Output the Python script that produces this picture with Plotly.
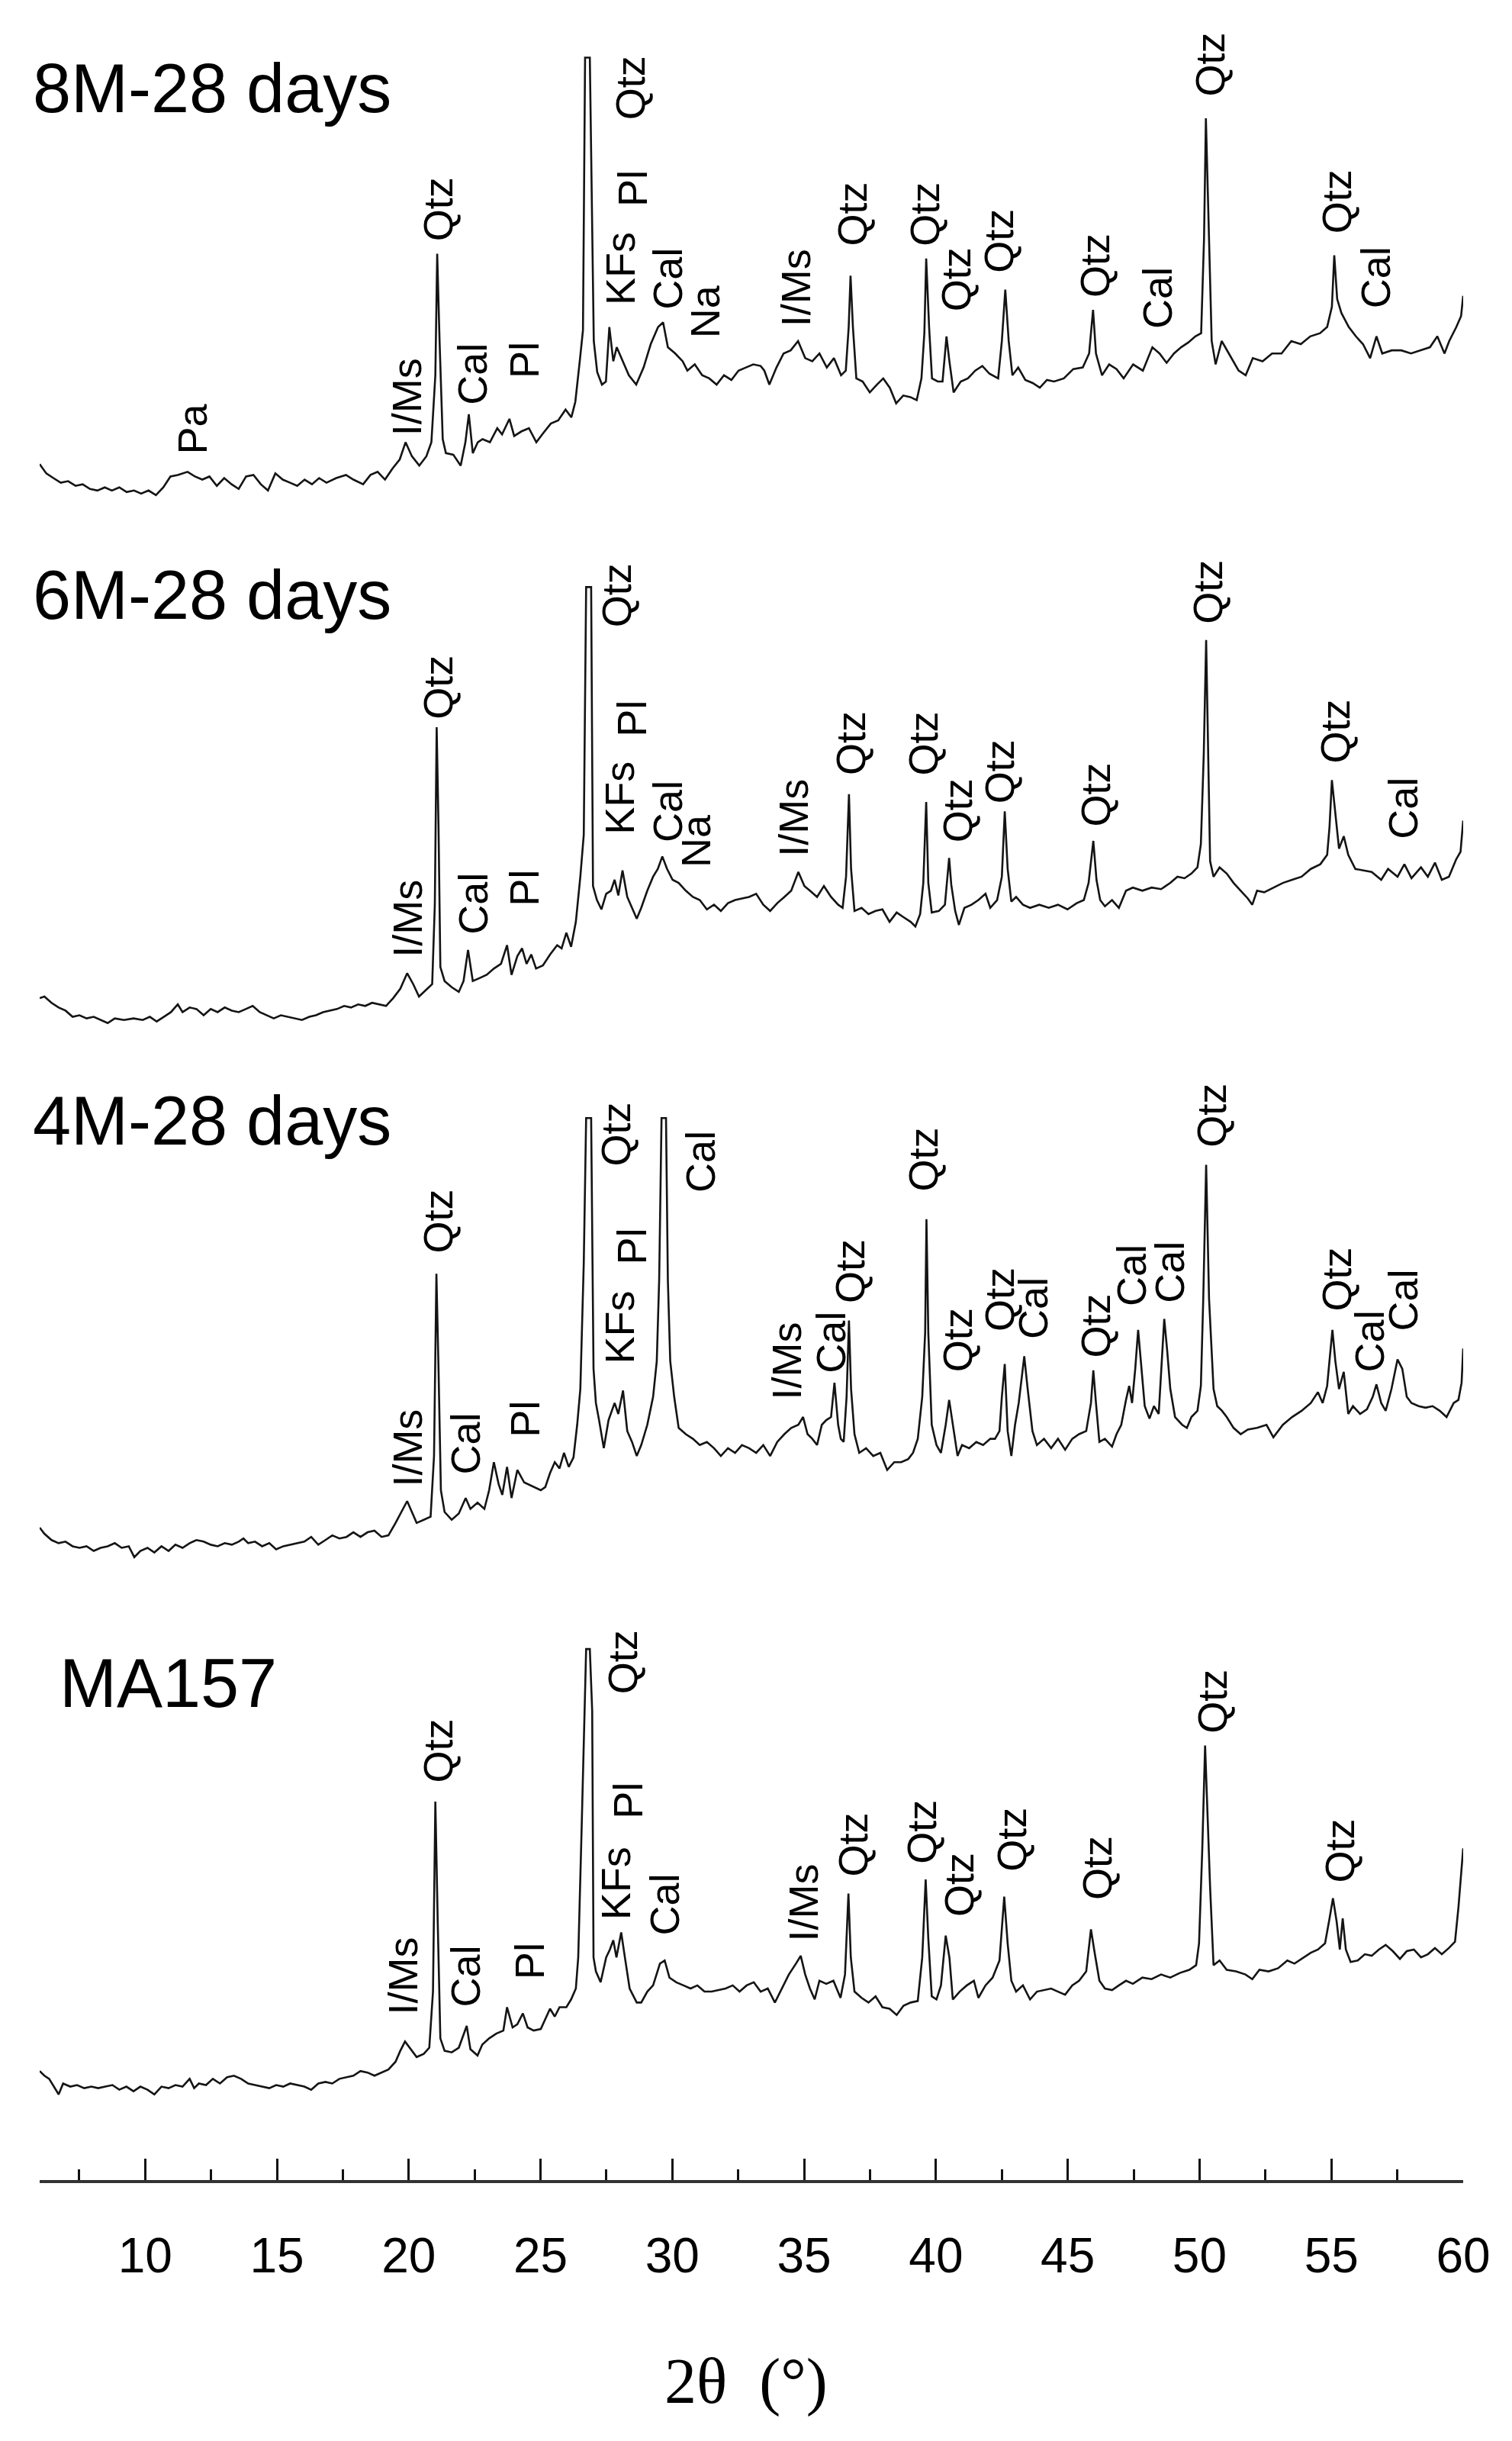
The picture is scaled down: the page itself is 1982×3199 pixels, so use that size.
import plotly.graph_objects as go

# ---------------- data: (2theta in degrees, intensity in arbitrary units above each pattern's baseline)
XRD_8M = [
    (6.00, 17), (6.25, 11), (6.52, 8), (6.80, 5), (7.08, 6), (7.36, 3), (7.63, 4), (7.91, 1), (8.19, 0),
    (8.47, 2), (8.74, 0), (9.02, 2), (9.30, -1), (9.58, 0), (9.85, -2), (10.13, 0), (10.41, -3), (10.69, 2),
    (10.96, 9), (11.24, 10), (11.61, 12), (11.89, 9), (12.17, 7), (12.44, 9), (12.72, 3), (13.00, 8),
    (13.28, 4), (13.55, 1), (13.83, 9), (14.11, 10), (14.39, 4), (14.66, 0), (14.94, 11), (15.22, 7),
    (15.50, 5), (15.77, 3), (16.05, 7), (16.33, 4), (16.60, 8), (16.88, 5), (17.25, 8), (17.62, 10),
    (17.90, 7), (18.27, 4), (18.55, 10), (18.82, 12), (19.10, 7), (19.38, 14), (19.66, 20), (19.88, 31),
    (20.12, 22), (20.40, 16), (20.67, 22), (20.86, 31), (21.01, 74), (21.08, 152), (21.17, 96), (21.29, 33),
    (21.41, 24), (21.69, 23), (21.97, 16), (22.15, 31), (22.28, 49), (22.43, 24), (22.62, 31), (22.80, 33),
    (23.08, 31), (23.36, 40), (23.54, 36), (23.82, 46), (24.00, 35), (24.28, 38), (24.56, 40), (24.84, 31),
    (25.11, 37), (25.39, 43), (25.67, 45), (25.95, 52), (26.17, 47), (26.32, 57), (26.50, 85), (26.61, 103),
    (26.69, 278), (26.87, 278), (27.02, 96), (27.15, 76), (27.33, 68), (27.48, 70), (27.61, 105), (27.76, 83),
    (27.89, 92), (28.07, 85), (28.35, 74), (28.63, 68), (28.91, 79), (29.18, 94), (29.46, 105), (29.65, 108),
    (29.83, 92), (30.11, 88), (30.39, 83), (30.57, 77), (30.85, 81), (31.13, 74), (31.40, 72), (31.68, 68),
    (31.96, 74), (32.24, 71), (32.51, 77), (32.79, 79), (33.07, 81), (33.35, 80), (33.49, 77), (33.68, 68),
    (33.95, 79), (34.22, 88), (34.49, 90), (34.77, 96), (35.04, 85), (35.31, 83), (35.58, 88), (35.86, 79),
    (36.13, 85), (36.40, 74), (36.58, 77), (36.69, 105), (36.76, 138), (36.85, 105), (36.98, 72), (37.22, 70),
    (37.49, 63), (37.76, 68), (38.00, 72), (38.25, 66), (38.49, 56), (38.76, 61), (39.03, 60), (39.27, 58),
    (39.45, 72), (39.56, 101), (39.63, 149), (39.74, 105), (39.85, 72), (40.07, 70), (40.25, 70), (40.40, 99),
    (40.51, 83), (40.67, 63), (40.94, 70), (41.21, 72), (41.49, 77), (41.76, 80), (42.03, 75), (42.36, 72),
    (42.50, 96), (42.63, 129), (42.76, 96), (42.90, 74), (43.12, 79), (43.39, 71), (43.67, 69), (43.94, 66),
    (44.21, 71), (44.48, 70), (44.85, 72), (45.21, 78), (45.57, 79), (45.81, 88), (45.96, 116), (46.07, 88),
    (46.30, 74), (46.57, 81), (46.85, 78), (47.12, 72), (47.48, 81), (47.85, 77), (48.21, 92), (48.48, 88),
    (48.75, 82), (49.03, 88), (49.30, 92), (49.57, 95), (49.84, 99), (50.06, 101), (50.17, 162), (50.24, 239),
    (50.35, 162), (50.46, 96), (50.61, 81), (50.84, 96), (51.11, 88), (51.48, 77), (51.75, 74), (52.02, 85),
    (52.39, 83), (52.75, 88), (53.11, 88), (53.48, 96), (53.84, 94), (54.20, 99), (54.57, 101), (54.84, 105),
    (55.02, 118), (55.11, 151), (55.22, 123), (55.38, 114), (55.66, 105), (55.93, 99), (56.20, 94), (56.47, 85),
    (56.71, 99), (56.93, 88), (57.29, 90), (57.65, 90), (58.02, 88), (58.38, 90), (58.74, 92), (59.02, 99),
    (59.29, 88), (59.47, 96), (59.74, 105), (59.92, 112), (60.00, 125),
]

XRD_6M = [
    (6.00, 14), (6.18, 15), (6.45, 11), (6.72, 8), (6.98, 6), (7.25, 2), (7.51, 3), (7.78, 1), (8.05, 2),
    (8.31, 0), (8.58, -2), (8.85, 1), (9.20, 0), (9.56, 1), (9.91, 0), (10.18, 2), (10.44, -1), (10.71, 2),
    (10.98, 5), (11.24, 10), (11.42, 5), (11.69, 8), (11.95, 7), (12.22, 3), (12.49, 7), (12.75, 5),
    (13.02, 8), (13.29, 6), (13.55, 5), (13.82, 7), (14.08, 9), (14.35, 5), (14.62, 3), (14.88, 1),
    (15.15, 3), (15.42, 2), (15.68, 1), (15.95, 0), (16.23, 2), (16.48, 3), (16.75, 5), (17.01, 6),
    (17.28, 7), (17.55, 9), (17.81, 8), (18.08, 10), (18.35, 9), (18.61, 11), (18.88, 10), (19.14, 9),
    (19.41, 14), (19.68, 20), (19.94, 30), (20.17, 23), (20.39, 15), (20.65, 19), (20.89, 23), (20.99, 74),
    (21.06, 188), (21.13, 124), (21.20, 34), (21.36, 25), (21.63, 21), (21.90, 18), (22.08, 25), (22.25, 45),
    (22.43, 25), (22.70, 27), (22.96, 29), (23.23, 33), (23.50, 36), (23.73, 48), (23.90, 29), (24.12, 41),
    (24.30, 46), (24.47, 36), (24.65, 42), (24.83, 33), (25.09, 35), (25.36, 42), (25.63, 48), (25.80, 46),
    (25.98, 56), (26.16, 47), (26.34, 63), (26.51, 92), (26.64, 119), (26.73, 278), (26.92, 278), (26.99, 86),
    (27.14, 77), (27.31, 71), (27.49, 81), (27.67, 83), (27.81, 90), (27.95, 80), (28.11, 96), (28.29, 79),
    (28.47, 72), (28.65, 65), (28.82, 72), (29.05, 83), (29.27, 92), (29.45, 97), (29.62, 105), (29.80, 97),
    (30.01, 90), (30.24, 88), (30.51, 83), (30.78, 79), (31.04, 77), (31.31, 71), (31.58, 74), (31.84, 70),
    (32.11, 75), (32.38, 77), (32.64, 78), (32.91, 79), (33.18, 81), (33.45, 74), (33.71, 70), (33.98, 75),
    (34.25, 79), (34.51, 83), (34.78, 95), (35.01, 86), (35.22, 83), (35.49, 79), (35.75, 86), (36.02, 79),
    (36.29, 74), (36.46, 72), (36.59, 92), (36.70, 145), (36.78, 97), (36.91, 70), (37.18, 72), (37.44, 68),
    (37.71, 70), (37.97, 71), (38.24, 63), (38.51, 69), (38.77, 66), (39.04, 63), (39.22, 60), (39.40, 68),
    (39.52, 88), (39.63, 140), (39.71, 88), (39.84, 69), (40.11, 70), (40.34, 74), (40.50, 104), (40.58, 87),
    (40.73, 70), (40.87, 61), (41.08, 72), (41.35, 74), (41.61, 77), (41.88, 81), (42.06, 72), (42.32, 77),
    (42.50, 92), (42.61, 134), (42.72, 97), (42.86, 76), (43.04, 79), (43.30, 74), (43.57, 72), (43.92, 74),
    (44.28, 72), (44.63, 74), (44.99, 71), (45.34, 75), (45.61, 77), (45.79, 88), (45.97, 115), (46.09, 90),
    (46.23, 77), (46.41, 73), (46.68, 77), (46.94, 72), (47.21, 83), (47.47, 85), (47.83, 83), (48.18, 85),
    (48.54, 84), (48.89, 88), (49.16, 92), (49.43, 91), (49.69, 94), (49.92, 98), (50.05, 113), (50.16, 171),
    (50.25, 244), (50.32, 171), (50.40, 102), (50.53, 92), (50.76, 98), (51.03, 94), (51.29, 88), (51.56, 83),
    (51.83, 78), (52.00, 74), (52.18, 83), (52.45, 82), (52.80, 85), (53.16, 88), (53.51, 90), (53.87, 92),
    (54.22, 97), (54.58, 100), (54.84, 106), (54.93, 124), (55.02, 154), (55.15, 133), (55.29, 110),
    (55.47, 118), (55.64, 106), (55.91, 97), (56.18, 96), (56.53, 95), (56.89, 90), (57.15, 97), (57.51, 92),
    (57.77, 100), (58.04, 91), (58.40, 98), (58.66, 92), (58.93, 101), (59.19, 90), (59.46, 92), (59.73, 103),
    (59.90, 108), (60.00, 128),
]

XRD_4M = [
    (6.00, 17), (6.18, 13), (6.45, 9), (6.72, 7), (6.98, 8), (7.25, 5), (7.51, 4), (7.78, 5), (8.05, 2),
    (8.31, 4), (8.58, 5), (8.85, 7), (9.11, 4), (9.38, 5), (9.59, -2), (9.82, 2), (10.09, 4), (10.35, 1),
    (10.62, 5), (10.89, 2), (11.15, 6), (11.42, 4), (11.69, 7), (11.95, 9), (12.22, 8), (12.49, 6),
    (12.75, 5), (13.02, 7), (13.29, 6), (13.55, 8), (13.73, 10), (13.91, 7), (14.17, 8), (14.44, 5),
    (14.71, 7), (14.97, 3), (15.24, 5), (15.50, 6), (15.77, 7), (16.04, 8), (16.30, 11), (16.57, 6),
    (16.84, 9), (17.10, 12), (17.37, 10), (17.64, 11), (17.90, 14), (18.17, 11), (18.44, 14), (18.70, 15),
    (18.97, 11), (19.23, 12), (19.50, 20), (19.77, 29), (19.94, 34), (20.12, 27), (20.30, 20), (20.57, 22),
    (20.83, 24), (20.96, 63), (21.05, 180), (21.13, 119), (21.22, 41), (21.36, 27), (21.63, 22), (21.90, 26),
    (22.16, 36), (22.34, 29), (22.61, 33), (22.87, 29), (23.05, 41), (23.23, 59), (23.41, 45), (23.55, 38),
    (23.73, 56), (23.90, 36), (24.12, 54), (24.38, 46), (24.74, 43), (25.01, 41), (25.18, 43), (25.36, 52),
    (25.54, 59), (25.72, 55), (25.89, 65), (26.07, 56), (26.25, 62), (26.39, 83), (26.51, 106), (26.64, 187),
    (26.73, 280), (26.92, 280), (27.01, 119), (27.10, 97), (27.22, 86), (27.40, 68), (27.58, 86), (27.81, 97),
    (27.95, 90), (28.13, 105), (28.29, 79), (28.47, 72), (28.65, 63), (28.82, 70), (29.05, 83), (29.27, 101),
    (29.41, 124), (29.50, 176), (29.59, 280), (29.76, 280), (29.83, 176), (29.92, 124), (30.07, 101),
    (30.24, 81), (30.51, 77), (30.78, 74), (31.04, 70), (31.31, 72), (31.58, 68), (31.84, 63), (32.11, 68),
    (32.38, 65), (32.64, 70), (32.91, 68), (33.18, 65), (33.45, 70), (33.71, 63), (33.98, 72), (34.25, 77),
    (34.51, 81), (34.78, 83), (34.96, 88), (35.13, 77), (35.31, 74), (35.49, 70), (35.67, 83), (35.84, 86),
    (36.02, 88), (36.15, 110), (36.29, 83), (36.39, 74), (36.50, 72), (36.61, 101), (36.70, 150), (36.78, 106),
    (36.91, 77), (37.09, 65), (37.35, 68), (37.62, 63), (37.89, 65), (38.15, 54), (38.42, 59), (38.68, 59),
    (38.95, 61), (39.13, 65), (39.31, 74), (39.48, 101), (39.59, 142), (39.64, 215), (39.71, 142), (39.84, 83),
    (40.02, 70), (40.19, 65), (40.37, 83), (40.50, 99), (40.64, 83), (40.82, 63), (40.99, 70), (41.26, 68),
    (41.53, 72), (41.79, 70), (42.06, 74), (42.24, 74), (42.41, 79), (42.50, 101), (42.61, 122), (42.72, 79),
    (42.86, 63), (43.00, 83), (43.14, 97), (43.27, 115), (43.35, 127), (43.48, 106), (43.66, 79), (43.83, 70),
    (44.10, 74), (44.37, 68), (44.63, 74), (44.90, 67), (45.17, 74), (45.43, 77), (45.70, 79), (45.88, 97),
    (45.97, 118), (46.07, 97), (46.20, 72), (46.41, 74), (46.68, 69), (46.85, 77), (47.03, 83), (47.21, 99),
    (47.33, 108), (47.44, 97), (47.56, 119), (47.67, 144), (47.79, 119), (47.92, 95), (48.10, 87), (48.27, 95),
    (48.45, 90), (48.54, 115), (48.66, 151), (48.77, 131), (48.89, 106), (49.07, 88), (49.34, 83), (49.52, 81),
    (49.69, 88), (49.92, 92), (50.05, 108), (50.14, 164), (50.25, 250), (50.36, 164), (50.53, 106),
    (50.67, 95), (50.85, 92), (51.03, 88), (51.29, 81), (51.56, 77), (51.83, 80), (52.18, 81), (52.54, 83),
    (52.80, 75), (53.16, 83), (53.51, 88), (53.87, 92), (54.22, 97), (54.49, 104), (54.67, 97), (54.84, 108),
    (54.95, 128), (55.04, 144), (55.15, 124), (55.29, 106), (55.47, 117), (55.64, 90), (55.82, 95), (56.09, 90),
    (56.35, 93), (56.57, 101), (56.71, 109), (56.89, 97), (57.06, 92), (57.28, 106), (57.51, 125), (57.69, 119),
    (57.86, 101), (58.04, 97), (58.31, 95), (58.57, 94), (58.84, 95), (59.11, 92), (59.37, 88), (59.64, 97),
    (59.82, 99), (59.94, 110), (60.00, 132),
]

XRD_MA157 = [
    (6.00, 12), (6.18, 9), (6.36, 7), (6.54, 2), (6.72, -3), (6.89, 4), (7.16, 2), (7.42, 3), (7.69, 1),
    (7.96, 2), (8.22, 1), (8.49, 2), (8.76, 3), (9.02, 0), (9.29, 2), (9.56, -1), (9.82, 2), (10.09, 0),
    (10.35, -3), (10.62, 2), (10.89, 1), (11.15, 3), (11.42, 2), (11.69, 7), (11.86, 1), (12.04, 4),
    (12.31, 3), (12.57, 7), (12.84, 4), (13.11, 8), (13.37, 9), (13.64, 7), (13.91, 4), (14.17, 3),
    (14.44, 2), (14.71, 1), (14.97, 3), (15.24, 2), (15.50, 4), (15.77, 3), (16.04, 2), (16.30, 0),
    (16.57, 4), (16.84, 5), (17.10, 4), (17.37, 7), (17.64, 8), (17.90, 9), (18.17, 12), (18.44, 11),
    (18.70, 9), (18.97, 11), (19.23, 13), (19.50, 18), (19.68, 25), (19.86, 31), (20.07, 26), (20.30, 21),
    (20.57, 23), (20.78, 27), (20.92, 63), (21.01, 185), (21.10, 108), (21.20, 33), (21.36, 25), (21.63, 24),
    (21.90, 27), (22.08, 35), (22.20, 41), (22.34, 26), (22.61, 22), (22.79, 29), (23.05, 33), (23.32, 36),
    (23.59, 38), (23.73, 53), (23.94, 40), (24.12, 42), (24.33, 49), (24.51, 40), (24.74, 38), (25.01, 39),
    (25.18, 45), (25.36, 52), (25.54, 47), (25.72, 53), (25.98, 53), (26.16, 58), (26.34, 65), (26.43, 85),
    (26.57, 175), (26.73, 283), (26.87, 283), (26.96, 243), (27.01, 85), (27.10, 76), (27.28, 69), (27.49, 85),
    (27.63, 90), (27.76, 96), (27.88, 85), (28.06, 101), (28.20, 85), (28.38, 65), (28.65, 56), (28.82, 56),
    (29.05, 63), (29.27, 67), (29.53, 81), (29.71, 83), (29.89, 72), (30.15, 69), (30.42, 67), (30.69, 65),
    (30.95, 67), (31.22, 63), (31.49, 63), (31.75, 64), (32.02, 65), (32.29, 67), (32.55, 63), (32.82, 67),
    (33.09, 69), (33.35, 63), (33.62, 65), (33.89, 56), (34.16, 65), (34.42, 74), (34.69, 81), (34.87, 86),
    (35.04, 74), (35.22, 65), (35.40, 58), (35.58, 70), (35.84, 68), (36.11, 70), (36.38, 59), (36.55, 74),
    (36.68, 126), (36.77, 85), (36.91, 63), (37.18, 59), (37.44, 56), (37.71, 60), (37.97, 53), (38.24, 52),
    (38.51, 48), (38.77, 54), (39.04, 56), (39.31, 57), (39.48, 85), (39.61, 135), (39.71, 97), (39.84, 60),
    (40.02, 58), (40.19, 67), (40.37, 99), (40.51, 85), (40.64, 58), (40.90, 63), (41.17, 67), (41.44, 70),
    (41.61, 59), (41.88, 67), (42.15, 72), (42.41, 83), (42.59, 124), (42.72, 94), (42.86, 70), (43.04, 63),
    (43.30, 67), (43.57, 58), (43.83, 63), (44.10, 64), (44.37, 65), (44.63, 63), (44.90, 61), (45.17, 67),
    (45.43, 70), (45.70, 76), (45.88, 103), (46.02, 88), (46.20, 70), (46.41, 65), (46.68, 64), (46.94, 67),
    (47.21, 70), (47.47, 68), (47.83, 72), (48.18, 71), (48.54, 74), (48.89, 72), (49.25, 75), (49.61, 77),
    (49.87, 80), (49.98, 94), (50.10, 153), (50.21, 221), (50.30, 175), (50.40, 130), (50.53, 80), (50.76, 83),
    (51.03, 77), (51.38, 76), (51.74, 74), (52.00, 71), (52.27, 77), (52.62, 76), (52.98, 78), (53.33, 83),
    (53.60, 81), (53.87, 84), (54.22, 88), (54.49, 90), (54.76, 94), (54.93, 110), (55.06, 123), (55.20, 108),
    (55.32, 90), (55.43, 110), (55.55, 90), (55.73, 82), (56.00, 83), (56.27, 87), (56.53, 86), (56.80, 90),
    (57.06, 93), (57.33, 89), (57.60, 84), (57.86, 89), (58.13, 90), (58.40, 85), (58.66, 87), (58.93, 91),
    (59.19, 87), (59.46, 91), (59.69, 95), (59.82, 117), (60.00, 155),
]

# phase labels: (label, 2theta, height above the pattern baseline where the rotated text starts)
LABELS_8M = [
    ("Pa", 11.79, 22), ("I/Ms", 19.94, 34), ("Qtz", 21.13, 159), ("Cal", 22.40, 54), ("Pl", 24.38, 71),
    ("KFs", 28.02, 118), ("Qtz", 28.40, 237), ("Pl", 28.50, 181), ("Cal", 29.82, 115), ("Na", 31.22, 97),
    ("I/Ms", 34.67, 104), ("Qtz", 36.82, 156), ("Qtz", 39.58, 156), ("Qtz", 40.76, 114), ("Qtz", 42.39, 139),
    ("Qtz", 46.03, 123), ("Cal", 48.39, 103), ("Qtz", 50.39, 252), ("Qtz", 55.20, 164), ("Cal", 56.66, 116),
]
LABELS_6M = [
    ("I/Ms", 19.94, 39), ("Qtz", 21.10, 192), ("Cal", 22.43, 54), ("Pl", 24.38, 72), ("Qtz", 27.90, 251),
    ("Pl", 28.47, 181), ("KFs", 27.99, 118), ("Cal", 29.80, 113), ("Na", 30.87, 97), ("I/Ms", 34.60, 104),
    ("Qtz", 36.78, 156), ("Qtz", 39.52, 156), ("Qtz", 40.82, 113), ("Qtz", 42.41, 138), ("Qtz", 46.05, 123),
    ("Qtz", 50.32, 253), ("Qtz", 55.15, 164), ("Cal", 57.72, 115),
]
LABELS_4M = [
    ("I/Ms", 19.94, 42), ("Qtz", 21.10, 192), ("Cal", 22.16, 50), ("Pl", 24.38, 74), ("Qtz", 27.85, 248),
    ("Pl", 28.47, 185), ("KFs", 27.99, 121), ("Cal", 31.04, 231), ("I/Ms", 34.33, 98), ("Cal", 36.02, 115),
    ("Qtz", 36.73, 160), ("Qtz", 39.52, 232), ("Qtz", 40.82, 116), ("Qtz", 42.41, 142), ("Cal", 43.66, 137),
    ("Qtz", 46.05, 125), ("Cal", 47.39, 158), ("Cal", 48.86, 160), ("Qtz", 50.44, 260), ("Qtz", 55.20, 155),
    ("Cal", 56.44, 116), ("Cal", 57.72, 142),
]
LABELS_MA157 = [
    ("I/Ms", 19.77, 47), ("Qtz", 21.10, 196), ("Cal", 22.16, 52), ("Pl", 24.56, 70), ("Qtz", 28.11, 253),
    ("Pl", 28.29, 173), ("KFs", 27.85, 108), ("Cal", 29.71, 98), ("I/Ms", 34.96, 94), ("Qtz", 36.86, 136),
    ("Qtz", 39.45, 144), ("Qtz", 40.87, 110), ("Qtz", 42.86, 139), ("Qtz", 46.09, 121), ("Qtz", 50.49, 228),
    ("Qtz", 55.32, 132),
]

SAMPLE_NAMES = ["8M-28 days", "6M-28 days", "4M-28 days", "MA157"]
X_TICKS = [10, 15, 20, 25, 30, 35, 40, 45, 50, 55, 60]
X_TITLE = "2θ\u00a0 (°)"

# ---------------- layout / style
W, H = 1982, 3199
ML, MR, MT, MB = 52, 64, 0, 342
Y_RANGE = [0, 1400]
OFFSETS = [1085, 745, 402, 58]           # vertical stacking of the four patterns
NAME_POS = [(-0.006, 1343), (-0.006, 1018), (-0.006, 680), (0.013, 319)]
LINE_COLOR = "#141414"
SANS = "Liberation Sans, Arial, sans-serif"
SERIF = "Liberation Serif, Times New Roman, serif"

fig = go.Figure()
patterns = [XRD_8M, XRD_6M, XRD_4M, XRD_MA157]
label_sets = [LABELS_8M, LABELS_6M, LABELS_4M, LABELS_MA157]

annotations = []
for data, labels, off, name, (nx, ny) in zip(patterns, label_sets, OFFSETS, SAMPLE_NAMES, NAME_POS):
    fig.add_trace(go.Scatter(
        x=[p[0] for p in data],
        y=[p[1] + off for p in data],
        mode="lines",
        line=dict(color=LINE_COLOR, width=2.6),
        showlegend=False,
        hoverinfo="skip",
    ))
    for txt, th, h in labels:
        annotations.append(dict(
            x=th, y=off + h, xref="x", yref="y", text=txt, showarrow=False,
            textangle=-90, xanchor="center", yanchor="bottom",
            font=dict(family=SANS, size=54, color="#000"),
        ))
    annotations.append(dict(
        x=nx, y=ny, xref="paper", yref="y", text=name, showarrow=False,
        xanchor="left", yanchor="middle",
        font=dict(family=SANS, size=90, color="#000"),
    ))

annotations.append(dict(
    x=0.496, y=-0.0925, xref="paper", yref="paper", text=X_TITLE, showarrow=False,
    xanchor="center", yanchor="middle",
    font=dict(family=SERIF, size=84, color="#000"),
))

fig.update_layout(
    width=W, height=H,
    margin=dict(l=ML, r=MR, t=MT, b=MB, pad=0),
    paper_bgcolor="white", plot_bgcolor="white",
    annotations=annotations,
    xaxis=dict(
        range=[6, 60], tickmode="array", tickvals=X_TICKS, ticktext=[str(t) for t in X_TICKS],
        showgrid=False, zeroline=False,
        showline=True, linecolor="#333333", linewidth=4,
        ticks="inside", ticklen=28, tickwidth=3, tickcolor="#111111",
        tickfont=dict(family=SANS, size=64, color="#000"),
        ticklabelstandoff=40,
        minor=dict(tickmode="linear", tick0=7.5, dtick=5, ticks="inside", ticklen=14,
                   tickwidth=3, tickcolor="#111111", showgrid=False),
    ),
    yaxis=dict(range=Y_RANGE, visible=False, showgrid=False, zeroline=False),
)

# remove the browser's default 8px page margin so the figure sits at the page origin
fig.write_html(
    "out.html",
    config={"displayModeBar": False},
    post_script="document.body.style.margin='0';document.body.style.padding='0';",
)
